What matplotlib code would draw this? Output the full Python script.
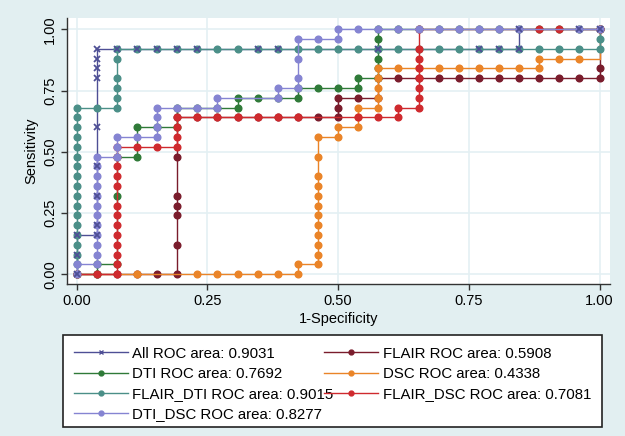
import matplotlib
matplotlib.use("Agg")
import matplotlib.pyplot as plt
from matplotlib.lines import Line2D
from matplotlib.patches import Rectangle

plt.rcParams['font.family'] = ['Liberation Sans', 'DejaVu Sans']

N_NEG = 26   # false positive steps
N_POS = 25   # true positive steps

# ROC points as (false positive count, true positive count)
ALL_FP = [0, 0, 0, 1, 1, 1, 1, 1, 1, 1, 1, 1, 2, 3, 4, 5, 6, 9, 10, 15, 20, 21, 22, 22, 25, 26]
ALL_TP = [0, 2, 4, 4, 5, 8, 11, 15, 20, 21, 22, 23, 23, 23, 23, 23, 23, 23, 23, 23, 23, 23, 23, 25, 25, 25]

FLAIR_FP = [0, 1, 2, 3, 4, 5, 5, 5, 5, 5, 5, 5, 6, 7, 8, 9, 10, 11, 12, 13, 13, 13, 14, 15, 15,
            16, 17, 18, 19, 20, 21, 22, 23, 24, 25, 26, 26, 26]
FLAIR_TP = [0, 0, 0, 0, 0, 0, 3, 6, 7, 8, 12, 16, 16, 16, 16, 16, 16, 16, 16, 16, 17, 18, 18, 18, 20,
            20, 20, 20, 20, 20, 20, 20, 20, 20, 20, 20, 21, 25]

DTI_FP = [0, 1, 1, 2, 2, 2, 3, 3, 4, 5, 5, 6, 7, 8, 8, 9, 10, 11, 11, 12, 13, 14, 14, 15, 15, 15, 15, 15, 15,
          16, 17, 18, 19, 20, 21, 22, 23, 24, 25, 26]
DTI_TP = [0, 0, 1, 1, 8, 12, 12, 15, 15, 15, 17, 17, 17, 17, 18, 18, 18, 18, 19, 19, 19, 19, 20, 20, 21, 22, 23, 24, 25,
          25, 25, 25, 25, 25, 25, 25, 25, 25, 25, 25]

DSC_FP = [0, 3, 6, 7, 8, 9, 10, 11, 11, 12, 12, 12, 12, 12, 12, 12, 12, 12, 12, 12, 12, 13, 13, 14, 14, 14,
          15, 15, 15, 15, 15, 16, 17, 18, 19, 20, 21, 22, 23, 23, 24, 25, 26, 26]
DSC_TP = [0, 0, 0, 0, 0, 0, 0, 0, 1, 1, 2, 3, 4, 5, 6, 7, 8, 9, 10, 12, 14, 14, 15, 15, 16, 17,
          17, 18, 19, 20, 21, 21, 21, 21, 21, 21, 21, 21, 21, 22, 22, 22, 22, 25]

FLAIR_DTI_FP = [0, 0, 0, 0, 0, 0, 0, 0, 0, 0, 0, 0, 0, 0, 0, 0, 0, 0, 1, 2, 2, 2, 2, 2, 2,
                3, 4, 5, 6, 7, 8, 9, 10, 11, 12, 13, 14, 15, 16, 17, 18, 19, 20, 21, 22, 23, 24, 25, 26, 26, 26]
FLAIR_DTI_TP = [0, 1, 2, 3, 4, 5, 6, 7, 8, 9, 10, 11, 12, 13, 14, 15, 16, 17, 17, 17, 18, 19, 20, 22, 23,
                23, 23, 23, 23, 23, 23, 23, 23, 23, 23, 23, 23, 23, 23, 23, 23, 23, 23, 23, 23, 23, 23, 23, 23, 24, 25]

FLAIR_DSC_FP = [0, 1, 2, 2, 2, 2, 2, 2, 2, 2, 2, 2, 2, 2, 2, 3, 4, 5, 5, 5, 5, 6, 7, 8, 9, 10, 11,
                14, 15, 16, 16, 17, 17, 17, 17, 17, 17, 17, 17, 23, 24, 26]
FLAIR_DSC_TP = [0, 0, 0, 1, 2, 3, 4, 5, 6, 7, 9, 10, 11, 12, 13, 13, 13, 13, 14, 15, 16, 16, 16, 16, 16, 16, 16,
                16, 16, 16, 17, 17, 18, 19, 20, 21, 22, 23, 25, 25, 25, 25]

DTI_DSC_FP = [0, 0, 1, 1, 1, 1, 1, 1, 1, 1, 1, 1, 1, 1, 2, 2, 2, 3, 4, 4, 4, 4, 5, 6, 7, 7, 10, 10, 11, 11, 11, 11,
              12, 13, 13, 14, 15, 16, 17, 18, 19, 20, 21, 22, 25, 26]
DTI_DSC_TP = [0, 1, 1, 2, 3, 4, 5, 6, 7, 8, 9, 10, 11, 12, 12, 13, 14, 14, 14, 15, 16, 17, 17, 17, 17, 18, 18, 19, 19, 20, 22, 24,
              24, 24, 25, 25, 25, 25, 25, 25, 25, 25, 25, 25, 25, 25]

LABELS = ['All ROC area: 0.9031', 'FLAIR ROC area: 0.5908', 'DTI ROC area: 0.7692',
          'DSC ROC area: 0.4338', 'FLAIR_DTI ROC area: 0.9015', 'FLAIR_DSC ROC area: 0.7081',
          'DTI_DSC ROC area: 0.8277']
COLORS = ['#4e4f95', '#7a1c2c', '#2f7a38', '#ea8428', '#4b8f88', '#cf2a2e', '#8584d2']

curves = [(ALL_FP, ALL_TP), (FLAIR_FP, FLAIR_TP), (DTI_FP, DTI_TP), (DSC_FP, DSC_TP),
          (FLAIR_DTI_FP, FLAIR_DTI_TP), (FLAIR_DSC_FP, FLAIR_DSC_TP), (DTI_DSC_FP, DTI_DSC_TP)]

fig = plt.figure(figsize=(6.25, 4.36), dpi=100, facecolor='#e2eff1')
ax = fig.add_axes([0.1067, 0.3486, 0.8693, 0.61])
ax.set_facecolor('white')

for k, ((fp, tp), col) in enumerate(zip(curves, COLORS)):
    xs = [v / N_NEG for v in fp]
    ys = [v / N_POS for v in tp]
    if k == 0:
        # line now, markers last (the X marks sit on top in the original)
        ax.plot(xs, ys, color=col, lw=1.0, zorder=2)
        all_xy = (xs, ys)
        continue
    marks = [i for i in range(len(fp)) if not (k == 3 and (fp[i], tp[i]) == (26, 22))]
    ax.plot(xs, ys, color=col, lw=1.0, marker='o', ms=4.8, mec=col, mfc=col,
            markevery=marks, zorder=2 + k)
ax.plot(all_xy[0], all_xy[1], ls='none', marker='x', ms=5, mew=1.3, color=COLORS[0], zorder=20)

ax.set_xlim(-0.019, 1.02)
ax.set_ylim(-0.04, 1.046)
ticks = [0, 0.25, 0.5, 0.75, 1.0]
ax.set_xticks(ticks)
ax.set_yticks(ticks)
ax.set_xticklabels(['0.00', '0.25', '0.50', '0.75', '1.00'], fontsize=10.5)
ax.set_yticklabels(['0.00', '0.25', '0.50', '0.75', '1.00'], fontsize=10.5, rotation=90, va='center')
ax.tick_params(direction='out', length=4, width=1, color='#333333', pad=3)
ax.grid(True, color='#e4f0f3', lw=1.2, zorder=0)
ax.set_axisbelow(True)
for s in ['top', 'right']:
    ax.spines[s].set_visible(False)
for s in ['left', 'bottom']:
    ax.spines[s].set_color('#333333')
    ax.spines[s].set_linewidth(1.0)
ax.set_xlabel('1-Specificity', fontsize=10.5, labelpad=3)
ax.set_ylabel('Sensitivity', fontsize=10.5, labelpad=3)

# legend box (text runs past the frame like in the original)
fig.patches.append(Rectangle((0.1008, 0.0206), 0.8624, 0.211, transform=fig.transFigure,
                             facecolor='white', edgecolor='#222222', lw=1.2, zorder=0))
handles = []
for k, col in enumerate(COLORS):
    mk = 'x' if k == 0 else 'o'
    handles.append(Line2D([], [], color=col, lw=1.0, marker=mk, ms=3.5, mew=1.0))
order = [0, 2, 4, 6, 1, 3, 5]
leg = fig.legend([handles[i] for i in order], [LABELS[i] for i in order], ncol=2,
                 loc='upper left', bbox_to_anchor=(0.113, 0.212), frameon=False,
                 fontsize=10.8, handlelength=3.6, handletextpad=0.3, columnspacing=-0.6,
                 labelspacing=0.42, borderaxespad=0, borderpad=0.2)

fig.savefig('out.png', dpi=100, facecolor=fig.get_facecolor())
